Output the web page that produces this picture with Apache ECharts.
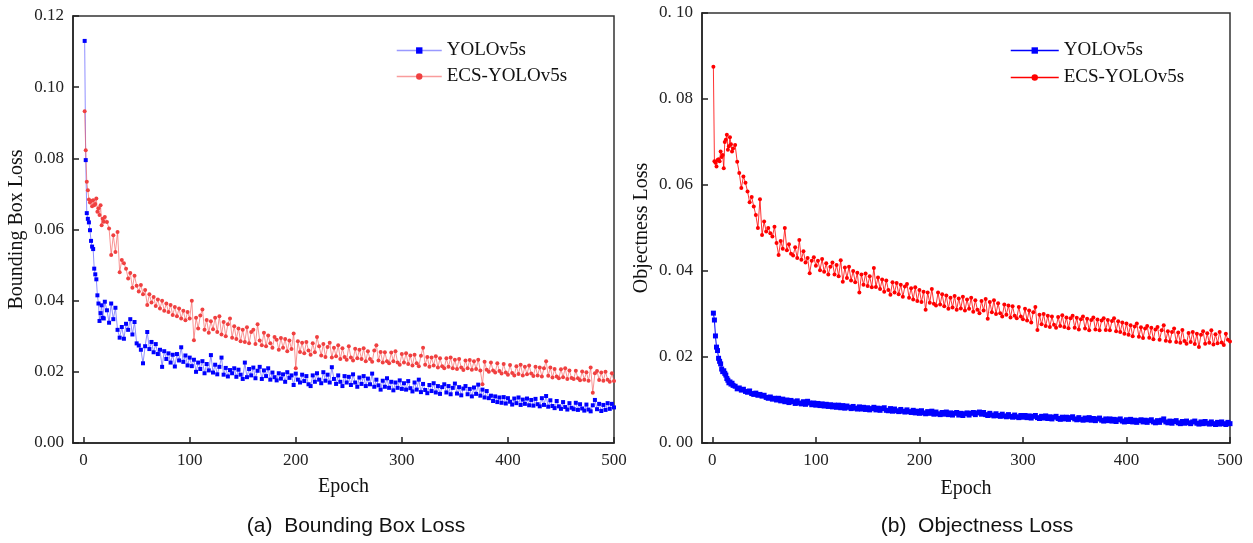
<!DOCTYPE html>
<html>
<head>
<meta charset="utf-8">
<script src="https://cdn.jsdelivr.net/npm/echarts@6/dist/echarts.min.js"></script>
<style>
  html, body { margin: 0; padding: 0; background: #fff; }
  #chart { width: 1253px; height: 543px; }
</style>
</head>
<body>
<div id="chart"></div>
<script>
// epochs: every epoch for the first 20, then every second epoch
var epochs = [];
for (var e = 1; e <= 20; e++) epochs.push(e);
for (var e2 = 22; e2 <= 500; e2 += 2) epochs.push(e2);

var xTicks = [0, 100, 200, 300, 400, 500];
var seriesNames = ['YOLOv5s', 'ECS-YOLOv5s'];

// (a) bounding box loss
var boxYolo = [
  0.1130, 0.0795, 0.0646, 0.0630, 0.0620, 0.0598, 0.0568, 0.0552, 0.0545, 0.0490, 0.0474, 0.0460, 0.0415, 0.0392, 0.0343, 0.0365, 0.0387, 0.0352, 0.0350, 0.0397,
  0.0373, 0.0338, 0.0392, 0.0348, 0.0380, 0.0318, 0.0296, 0.0326, 0.0293, 0.0335, 0.0318, 0.0348, 0.0305, 0.0340, 0.0280, 0.0274, 0.0262, 0.0224, 0.0272, 0.0312,
  0.0264, 0.0284, 0.0255, 0.0278, 0.0250, 0.0262, 0.0214, 0.0258, 0.0236, 0.0252, 0.0226, 0.0248, 0.0215, 0.0250, 0.0232, 0.0269, 0.0228, 0.0246, 0.0218, 0.0240,
  0.0216, 0.0234, 0.0200, 0.0226, 0.0208, 0.0230, 0.0196, 0.0222, 0.0204, 0.0247, 0.0198, 0.0220, 0.0193, 0.0214, 0.0240, 0.0192, 0.0211, 0.0187, 0.0205, 0.0196,
  0.0210, 0.0186, 0.0206, 0.0192, 0.0180, 0.0226, 0.0185, 0.0208, 0.0190, 0.0212, 0.0182, 0.0203, 0.0214, 0.0180, 0.0204, 0.0188, 0.0210, 0.0178, 0.0198, 0.0185,
  0.0176, 0.0196, 0.0181, 0.0193, 0.0172, 0.0199, 0.0183, 0.0190, 0.0163, 0.0195, 0.0178, 0.0170, 0.0192, 0.0174, 0.0188, 0.0165, 0.0160, 0.0190, 0.0172, 0.0196,
  0.0178, 0.0168, 0.0199, 0.0175, 0.0192, 0.0170, 0.0213, 0.0180, 0.0166, 0.0190, 0.0172, 0.0160, 0.0188, 0.0170, 0.0186, 0.0163, 0.0193, 0.0170, 0.0158, 0.0184,
  0.0166, 0.0188, 0.0160, 0.0181, 0.0165, 0.0195, 0.0158, 0.0178, 0.0162, 0.0150, 0.0175, 0.0158, 0.0182, 0.0155, 0.0172, 0.0148, 0.0170, 0.0155, 0.0176, 0.0152,
  0.0168, 0.0150, 0.0174, 0.0154, 0.0145, 0.0170, 0.0150, 0.0178, 0.0143, 0.0166, 0.0149, 0.0140, 0.0163, 0.0146, 0.0168, 0.0142, 0.0160, 0.0138, 0.0157, 0.0165,
  0.0142, 0.0160, 0.0137, 0.0155, 0.0167, 0.0139, 0.0157, 0.0134, 0.0153, 0.0160, 0.0137, 0.0152, 0.0131, 0.0156, 0.0138, 0.0164, 0.0133, 0.0150, 0.0128, 0.0146,
  0.0126, 0.0133, 0.0118, 0.0131, 0.0115, 0.0128, 0.0113, 0.0129, 0.0111, 0.0126, 0.0116, 0.0108, 0.0125, 0.0112, 0.0128, 0.0107, 0.0122, 0.0110, 0.0125, 0.0106,
  0.0121, 0.0105, 0.0124, 0.0109, 0.0103, 0.0126, 0.0107, 0.0132, 0.0102, 0.0120, 0.0104, 0.0098, 0.0118, 0.0103, 0.0096, 0.0115, 0.0101, 0.0094, 0.0112, 0.0099,
  0.0095, 0.0113, 0.0093, 0.0109, 0.0097, 0.0091, 0.0108, 0.0094, 0.0089, 0.0106, 0.0121, 0.0095, 0.0110, 0.0090, 0.0107, 0.0093, 0.0112, 0.0096, 0.0110, 0.0100
];
var boxEcs = [
  0.0932, 0.0823, 0.0734, 0.0710, 0.0684, 0.0676, 0.0680, 0.0665, 0.0682, 0.0668, 0.0672, 0.0687, 0.0650, 0.0660, 0.0641, 0.0668, 0.0612, 0.0630, 0.0622, 0.0635,
  0.0621, 0.0603, 0.0528, 0.0584, 0.0537, 0.0593, 0.0480, 0.0514, 0.0505, 0.0490, 0.0462, 0.0478, 0.0436, 0.0470, 0.0442, 0.0426, 0.0444, 0.0418, 0.0430, 0.0388,
  0.0418, 0.0395, 0.0410, 0.0385, 0.0403, 0.0378, 0.0400, 0.0372, 0.0392, 0.0368, 0.0388, 0.0360, 0.0382, 0.0356, 0.0378, 0.0350, 0.0372, 0.0345, 0.0368, 0.0350,
  0.0400, 0.0289, 0.0352, 0.0322, 0.0358, 0.0375, 0.0318, 0.0346, 0.0310, 0.0342, 0.0320, 0.0352, 0.0312, 0.0356, 0.0305, 0.0340, 0.0300, 0.0334, 0.0350, 0.0296,
  0.0328, 0.0292, 0.0322, 0.0286, 0.0318, 0.0284, 0.0325, 0.0280, 0.0312, 0.0318, 0.0278, 0.0334, 0.0288, 0.0275, 0.0310, 0.0272, 0.0302, 0.0280, 0.0268, 0.0298,
  0.0290, 0.0262, 0.0295, 0.0268, 0.0292, 0.0258, 0.0288, 0.0264, 0.0308, 0.0210, 0.0286, 0.0256, 0.0282, 0.0252, 0.0284, 0.0260, 0.0248, 0.0280, 0.0255, 0.0298,
  0.0272, 0.0246, 0.0278, 0.0242, 0.0270, 0.0282, 0.0240, 0.0268, 0.0244, 0.0275, 0.0236, 0.0266, 0.0242, 0.0234, 0.0272, 0.0240, 0.0232, 0.0265, 0.0238, 0.0262,
  0.0236, 0.0266, 0.0230, 0.0258, 0.0236, 0.0228, 0.0260, 0.0275, 0.0232, 0.0256, 0.0226, 0.0255, 0.0230, 0.0224, 0.0254, 0.0230, 0.0258, 0.0226, 0.0220, 0.0250,
  0.0226, 0.0252, 0.0222, 0.0246, 0.0218, 0.0248, 0.0224, 0.0216, 0.0245, 0.0268, 0.0220, 0.0242, 0.0214, 0.0240, 0.0218, 0.0244, 0.0212, 0.0238, 0.0216, 0.0210,
  0.0238, 0.0214, 0.0240, 0.0210, 0.0234, 0.0208, 0.0236, 0.0212, 0.0205, 0.0232, 0.0210, 0.0233, 0.0206, 0.0230, 0.0208, 0.0234, 0.0204, 0.0165, 0.0228, 0.0206,
  0.0200, 0.0226, 0.0204, 0.0198, 0.0224, 0.0202, 0.0195, 0.0222, 0.0198, 0.0192, 0.0219, 0.0197, 0.0190, 0.0216, 0.0194, 0.0220, 0.0190, 0.0214, 0.0193, 0.0218,
  0.0195, 0.0188, 0.0214, 0.0190, 0.0212, 0.0187, 0.0210, 0.0230, 0.0189, 0.0212, 0.0184, 0.0208, 0.0187, 0.0182, 0.0207, 0.0185, 0.0210, 0.0180, 0.0204, 0.0183,
  0.0180, 0.0203, 0.0182, 0.0176, 0.0201, 0.0178, 0.0199, 0.0175, 0.0212, 0.0141, 0.0196, 0.0202, 0.0177, 0.0198, 0.0175, 0.0200, 0.0178, 0.0172, 0.0196, 0.0174
];

// (b) objectness loss
var objYolo = [
  0.0302, 0.0286, 0.0249, 0.0223, 0.0215, 0.0197, 0.0190, 0.0184, 0.0172, 0.0166, 0.0168, 0.0162, 0.0158, 0.0150, 0.0146, 0.0140, 0.0142, 0.0137, 0.0139, 0.0134,
  0.0132, 0.0126, 0.0128, 0.0123, 0.0125, 0.0120, 0.0118, 0.0121, 0.0115, 0.0113, 0.0116, 0.0111, 0.0113, 0.0109, 0.0111, 0.0106, 0.0104, 0.0107, 0.0102, 0.0104,
  0.0100, 0.0104, 0.0098, 0.0102, 0.0096, 0.0100, 0.0094, 0.0099, 0.0096, 0.0092, 0.0098, 0.0093, 0.0091, 0.0096, 0.0090, 0.0097, 0.0093, 0.0089, 0.0093, 0.0088,
  0.0092, 0.0087, 0.0091, 0.0086, 0.0090, 0.0085, 0.0089, 0.0084, 0.0088, 0.0083, 0.0088, 0.0082, 0.0087, 0.0081, 0.0086, 0.0083, 0.0080, 0.0085, 0.0081, 0.0079,
  0.0084, 0.0079, 0.0083, 0.0078, 0.0082, 0.0077, 0.0080, 0.0083, 0.0077, 0.0081, 0.0076, 0.0080, 0.0082, 0.0076, 0.0075, 0.0080, 0.0074, 0.0079, 0.0075, 0.0073,
  0.0078, 0.0074, 0.0072, 0.0077, 0.0073, 0.0071, 0.0076, 0.0070, 0.0074, 0.0069, 0.0075, 0.0070, 0.0068, 0.0073, 0.0069, 0.0074, 0.0067, 0.0072, 0.0068, 0.0066,
  0.0071, 0.0067, 0.0072, 0.0066, 0.0070, 0.0065, 0.0069, 0.0071, 0.0065, 0.0069, 0.0064, 0.0068, 0.0070, 0.0065, 0.0069, 0.0071, 0.0066, 0.0070, 0.0072, 0.0067,
  0.0071, 0.0066, 0.0064, 0.0069, 0.0065, 0.0063, 0.0068, 0.0064, 0.0062, 0.0067, 0.0063, 0.0061, 0.0066, 0.0062, 0.0060, 0.0065, 0.0061, 0.0059, 0.0064, 0.0060,
  0.0064, 0.0059, 0.0063, 0.0058, 0.0062, 0.0064, 0.0059, 0.0057, 0.0062, 0.0058, 0.0063, 0.0057, 0.0061, 0.0056, 0.0060, 0.0062, 0.0057, 0.0055, 0.0060, 0.0056,
  0.0060, 0.0055, 0.0059, 0.0061, 0.0056, 0.0054, 0.0059, 0.0055, 0.0053, 0.0058, 0.0054, 0.0059, 0.0053, 0.0057, 0.0052, 0.0056, 0.0058, 0.0053, 0.0051, 0.0056,
  0.0052, 0.0056, 0.0051, 0.0055, 0.0050, 0.0054, 0.0056, 0.0051, 0.0049, 0.0054, 0.0050, 0.0055, 0.0049, 0.0053, 0.0048, 0.0052, 0.0054, 0.0049, 0.0053, 0.0048,
  0.0052, 0.0054, 0.0049, 0.0047, 0.0052, 0.0048, 0.0053, 0.0056, 0.0049, 0.0047, 0.0051, 0.0046, 0.0050, 0.0052, 0.0047, 0.0045, 0.0050, 0.0046, 0.0051, 0.0047,
  0.0045, 0.0049, 0.0051, 0.0046, 0.0044, 0.0049, 0.0045, 0.0050, 0.0046, 0.0044, 0.0049, 0.0045, 0.0043, 0.0048, 0.0044, 0.0049, 0.0045, 0.0043, 0.0048, 0.0045
];
var objEcs = [
  0.0875, 0.0655, 0.0652, 0.0643, 0.0658, 0.0660, 0.0655, 0.0678, 0.0665, 0.0670, 0.0639, 0.0700, 0.0705, 0.0717, 0.0682, 0.0690, 0.0711, 0.0695, 0.0678, 0.0685,
  0.0693, 0.0654, 0.0628, 0.0593, 0.0620, 0.0605, 0.0585, 0.0560, 0.0572, 0.0550, 0.0530, 0.0500, 0.0567, 0.0484, 0.0515, 0.0492, 0.0500, 0.0488, 0.0480, 0.0503,
  0.0465, 0.0437, 0.0470, 0.0452, 0.0500, 0.0448, 0.0462, 0.0440, 0.0436, 0.0455, 0.0430, 0.0472, 0.0426, 0.0446, 0.0420, 0.0430, 0.0395, 0.0424, 0.0432, 0.0412,
  0.0424, 0.0402, 0.0428, 0.0398, 0.0418, 0.0392, 0.0410, 0.0420, 0.0392, 0.0414, 0.0388, 0.0425, 0.0375, 0.0408, 0.0384, 0.0410, 0.0378, 0.0400, 0.0374, 0.0396,
  0.0350, 0.0392, 0.0368, 0.0394, 0.0365, 0.0388, 0.0362, 0.0407, 0.0363, 0.0385, 0.0358, 0.0380, 0.0352, 0.0378, 0.0356, 0.0345, 0.0374, 0.0350, 0.0372, 0.0346,
  0.0368, 0.0340, 0.0364, 0.0370, 0.0338, 0.0360, 0.0334, 0.0362, 0.0330, 0.0356, 0.0328, 0.0352, 0.0310, 0.0350, 0.0326, 0.0358, 0.0324, 0.0320, 0.0350, 0.0322,
  0.0346, 0.0318, 0.0343, 0.0312, 0.0338, 0.0315, 0.0342, 0.0310, 0.0336, 0.0313, 0.0340, 0.0308, 0.0334, 0.0312, 0.0338, 0.0305, 0.0332, 0.0310, 0.0302, 0.0330,
  0.0308, 0.0335, 0.0289, 0.0328, 0.0304, 0.0332, 0.0300, 0.0325, 0.0302, 0.0294, 0.0322, 0.0298, 0.0320, 0.0292, 0.0318, 0.0296, 0.0290, 0.0316, 0.0294, 0.0288,
  0.0312, 0.0285, 0.0308, 0.0280, 0.0304, 0.0316, 0.0263, 0.0298, 0.0276, 0.0300, 0.0272, 0.0296, 0.0270, 0.0294, 0.0275, 0.0268, 0.0293, 0.0272, 0.0297, 0.0270,
  0.0292, 0.0267, 0.0290, 0.0296, 0.0268, 0.0291, 0.0264, 0.0288, 0.0294, 0.0266, 0.0289, 0.0262, 0.0286, 0.0292, 0.0264, 0.0287, 0.0262, 0.0285, 0.0290, 0.0263,
  0.0286, 0.0262, 0.0284, 0.0290, 0.0260, 0.0283, 0.0258, 0.0280, 0.0254, 0.0278, 0.0252, 0.0274, 0.0248, 0.0271, 0.0278, 0.0247, 0.0269, 0.0244, 0.0266, 0.0272,
  0.0245, 0.0268, 0.0241, 0.0264, 0.0270, 0.0240, 0.0262, 0.0274, 0.0238, 0.0260, 0.0236, 0.0258, 0.0266, 0.0235, 0.0257, 0.0233, 0.0263, 0.0237, 0.0231, 0.0256,
  0.0235, 0.0258, 0.0230, 0.0254, 0.0223, 0.0252, 0.0260, 0.0231, 0.0255, 0.0233, 0.0262, 0.0229, 0.0253, 0.0232, 0.0258, 0.0234, 0.0228, 0.0254, 0.0240, 0.0236
];

function pairs(vals) {
  return vals.map(function (v, i) { return [epochs[i], v]; });
}

var serif = 'Liberation Serif';

function xAxisFor(gridIndex, nameGap) {
  return {
    type: 'value', gridIndex: gridIndex, min: -10, max: 500,
    name: 'Epoch', nameLocation: 'middle', nameGap: nameGap,
    nameTextStyle: { fontFamily: serif, fontSize: 20, color: '#111' },
    axisLine: { show: true, onZero: false, lineStyle: { color: '#222', width: 1.5 } },
    axisTick: { show: true, inside: true, length: 6, customValues: xTicks, lineStyle: { color: '#222', width: 1.5 } },
    axisLabel: { customValues: xTicks, margin: 9, fontFamily: serif, fontSize: 17, color: '#222' },
    splitLine: { show: false }
  };
}

function yAxisFor(gridIndex, max, name, nameGap, fmt) {
  return {
    type: 'value', gridIndex: gridIndex, min: 0, max: max, interval: 0.02,
    name: name, nameLocation: 'middle', nameGap: nameGap,
    nameTextStyle: { fontFamily: serif, fontSize: 20, color: '#111' },
    axisLine: { show: true, onZero: false, lineStyle: { color: '#222', width: 1.5 } },
    axisTick: { show: true, inside: true, length: 6, lineStyle: { color: '#222', width: 1.5 } },
    axisLabel: { margin: 9, fontFamily: serif, fontSize: 17, color: '#222', formatter: fmt },
    splitLine: { show: false }
  };
}

var option = {
  backgroundColor: '#fff',
  animation: false,
  title: [
    { text: '(a)  Bounding Box Loss', left: 351, top: 511, textAlign: 'center',
      textStyle: { fontFamily: 'Liberation Sans', fontSize: 21, fontWeight: 'normal', color: '#111' } },
    { text: '(b)  Objectness Loss', left: 972, top: 511, textAlign: 'center',
      textStyle: { fontFamily: 'Liberation Sans', fontSize: 21, fontWeight: 'normal', color: '#111' } }
  ],
  grid: [
    { left: 73, top: 16, width: 541, height: 427, show: true, borderColor: '#333', borderWidth: 1.5, backgroundColor: 'transparent' },
    { left: 702, top: 13, width: 528, height: 430, show: true, borderColor: '#333', borderWidth: 1.5, backgroundColor: 'transparent' }
  ],
  legend: [
    {
      left: 391, top: 36, orient: 'vertical', itemWidth: 45, itemHeight: 8, itemGap: 7,
      textStyle: { fontFamily: serif, fontSize: 19, color: '#111' },
      data: [
        { name: seriesNames[0], itemStyle: { color: '#0000ff' }, lineStyle: { color: 'rgba(70,70,255,0.55)', width: 1.5 } },
        { name: seriesNames[1], itemStyle: { color: '#f04040' }, lineStyle: { color: 'rgba(245,90,90,0.6)', width: 1.5 } }
      ]
    },
    {
      left: 1005, top: 36, orient: 'vertical', itemWidth: 48, itemHeight: 8, itemGap: 8,
      textStyle: { fontFamily: serif, fontSize: 19, color: '#111' },
      data: [
        { name: seriesNames[0], itemStyle: { color: '#0000ff' }, lineStyle: { color: '#0000ff', width: 1.5 } },
        { name: seriesNames[1], itemStyle: { color: '#ff0000' }, lineStyle: { color: '#ff0000', width: 1.5 } }
      ]
    }
  ],
  xAxis: [xAxisFor(0, 34), xAxisFor(1, 36)],
  yAxis: [
    yAxisFor(0, 0.12, 'Bounding Box Loss', 46, function (v) { return v.toFixed(2); }),
    yAxisFor(1, 0.10, 'Objectness Loss', 50, function (v) { return v.toFixed(2).replace('.', '. '); })
  ],
  series: [
    { name: seriesNames[0], type: 'line', xAxisIndex: 0, yAxisIndex: 0, data: pairs(boxYolo),
      symbol: 'rect', symbolSize: 4, showAllSymbol: true,
      itemStyle: { color: '#0000ff' }, lineStyle: { color: 'rgba(70,70,255,0.6)', width: 1 } },
    { name: seriesNames[1], type: 'line', xAxisIndex: 0, yAxisIndex: 0, data: pairs(boxEcs),
      symbol: 'circle', symbolSize: 4, showAllSymbol: true,
      itemStyle: { color: '#f04040' }, lineStyle: { color: 'rgba(245,90,90,0.65)', width: 1 } },
    { name: seriesNames[0], type: 'line', xAxisIndex: 1, yAxisIndex: 1, data: pairs(objYolo),
      symbol: 'rect', symbolSize: 5, showAllSymbol: true,
      itemStyle: { color: '#0000ff' }, lineStyle: { color: '#0000ff', width: 1 } },
    { name: seriesNames[1], type: 'line', xAxisIndex: 1, yAxisIndex: 1, data: pairs(objEcs),
      symbol: 'circle', symbolSize: 4, showAllSymbol: true,
      itemStyle: { color: '#ff0000' }, lineStyle: { color: '#ff0000', width: 0.8 } }
  ]
};

var chart = echarts.init(document.getElementById('chart'));
chart.setOption(option);
</script>
</body>
</html>
